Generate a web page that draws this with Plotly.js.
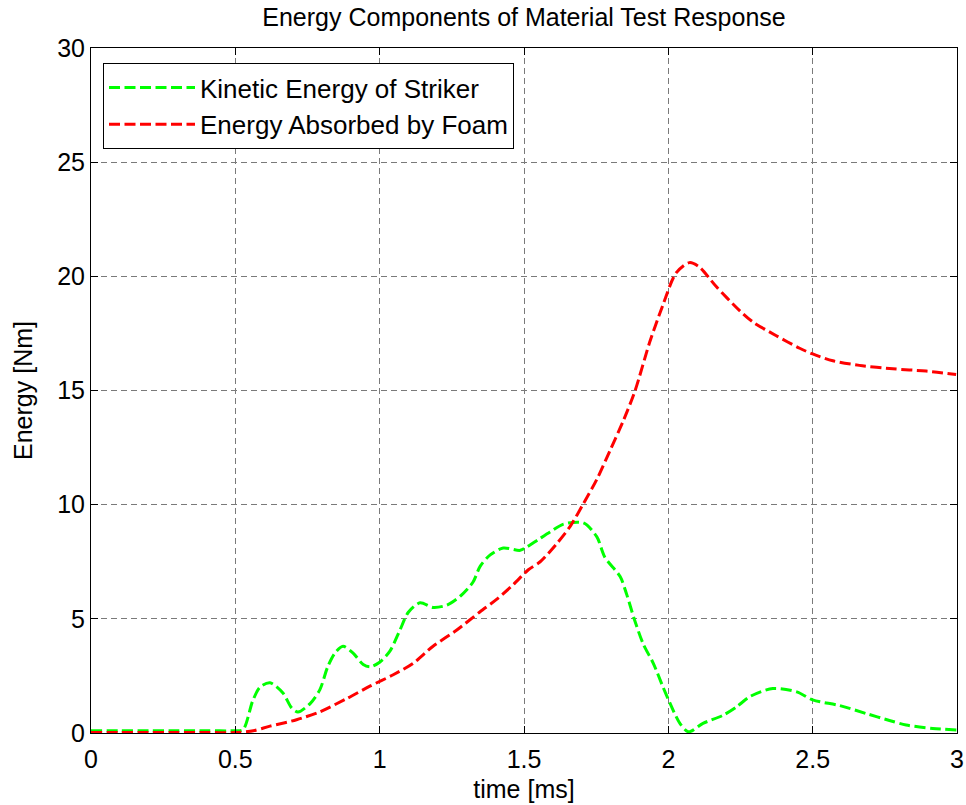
<!DOCTYPE html>
<html>
<head>
<meta charset="utf-8">
<script src="https://cdn.plot.ly/plotly-3.0.1.min.js"></script>
<style>html,body{margin:0;padding:0;background:#fff;}#chart{width:966px;height:805px;}</style>
</head>
<body>
<div id="chart"></div>
<script>
// Kinetic energy of striker (green)
const keTime = [0, 0.1, 0.2, 0.3, 0.4, 0.5, 0.527, 0.56, 0.585, 0.62, 0.665, 0.695, 0.717, 0.76, 0.793, 0.82, 0.845, 0.873, 0.908, 0.943, 0.967, 1.0, 1.036, 1.07, 1.1, 1.14, 1.185, 1.233, 1.28, 1.323, 1.348, 1.383, 1.428, 1.487, 1.51, 1.547, 1.59, 1.637, 1.706, 1.752, 1.78, 1.833, 1.855, 1.883, 1.913, 1.948, 1.982, 2.006, 2.04, 2.07, 2.12, 2.19, 2.237, 2.283, 2.362, 2.445, 2.5, 2.594, 2.686, 2.766, 2.824, 2.916, 3.0];
const keEnergy = [0.1, 0.1, 0.1, 0.1, 0.1, 0.1, 0.15, 1.4, 2.0, 2.2, 1.75, 1.1, 0.92, 1.3, 1.9, 2.9, 3.5, 3.8, 3.5, 3.0, 2.9, 3.1, 3.6, 4.5, 5.3, 5.7, 5.5, 5.6, 6.0, 6.6, 7.3, 7.8, 8.1, 8.0, 8.15, 8.45, 8.8, 9.15, 9.2, 8.6, 7.7, 6.85, 6.1, 4.95, 3.9, 3.05, 2.0, 1.3, 0.42, 0.05, 0.42, 0.78, 1.15, 1.6, 1.95, 1.8, 1.45, 1.2, 0.85, 0.55, 0.35, 0.2, 0.13];
// Energy absorbed by foam (red)
const foamTime = [0, 0.1, 0.2, 0.3, 0.4, 0.5, 0.562, 0.62, 0.712, 0.793, 0.885, 0.966, 1.047, 1.116, 1.185, 1.266, 1.347, 1.405, 1.463, 1.515, 1.556, 1.614, 1.66, 1.706, 1.752, 1.799, 1.845, 1.885, 1.935, 1.98, 2.027, 2.073, 2.108, 2.166, 2.247, 2.293, 2.374, 2.455, 2.5, 2.57, 2.662, 2.778, 2.893, 2.997];
const foamEnergy = [0.02, 0.02, 0.02, 0.02, 0.02, 0.02, 0.1, 0.3, 0.58, 0.93, 1.5, 2.05, 2.55, 3.05, 3.8, 4.5, 5.3, 5.85, 6.5, 7.15, 7.5, 8.3, 9.05, 10.05, 11.1, 12.4, 13.7, 15.0, 17.1, 18.7, 20.15, 20.6, 20.4, 19.55, 18.5, 18.0, 17.4, 16.85, 16.6, 16.3, 16.1, 15.95, 15.85, 15.7];

const xTicks = [0, 0.5, 1, 1.5, 2, 2.5, 3];
const xTickText = ['0', '0.5', '1', '1.5', '2', '2.5', '3'];
const yTicks = [0, 5, 10, 15, 20, 25, 30];
const yTickText = ['0', '5', '10', '15', '20', '25', '30'];

const FONT = 'Liberation Sans, Arial, Helvetica, sans-serif';

const traces = [
  {x: keTime, y: keEnergy, type: 'scatter', mode: 'lines', name: 'Kinetic Energy of Striker',
   line: {color: '#00ff00', width: 3, dash: '11px,4.5px', shape: 'spline', smoothing: 0.8}},
  {x: foamTime, y: foamEnergy, type: 'scatter', mode: 'lines', name: 'Energy Absorbed by Foam',
   line: {color: '#ff0000', width: 3, dash: '11px,4.5px', shape: 'spline', smoothing: 0.8}}
];

const axisCommon = {
  showline: true, linecolor: '#000', linewidth: 1, mirror: 'ticks',
  ticks: 'inside', ticklen: 7, tickcolor: '#000', tickwidth: 1,
  showgrid: true, gridcolor: '#7a7a7a', gridwidth: 1, griddash: '6px,4px',
  zeroline: false, tickfont: {family: FONT, size: 25, color: '#000'}
};

const layout = {
  width: 966, height: 805,
  margin: {l: 91, r: 9, t: 48, b: 72, pad: 0},
  paper_bgcolor: '#fff', plot_bgcolor: '#fff',
  font: {family: FONT, size: 25, color: '#000'},
  title: {text: 'Energy Components of Material Test Response', font: {family: FONT, size: 25, color: '#000'},
          xref: 'paper', x: 0.5, xanchor: 'center', yref: 'container', y: 1 - 17 / 805, yanchor: 'middle'},
  xaxis: Object.assign({}, axisCommon, {
    range: [0, 3], tickmode: 'array', tickvals: xTicks, ticktext: xTickText, ticklabelstandoff: 4,
    title: {text: 'time [ms]', font: {family: FONT, size: 25, color: '#000'}, standoff: 8}
  }),
  yaxis: Object.assign({}, axisCommon, {
    range: [0, 30], tickmode: 'array', tickvals: yTicks, ticktext: yTickText,
    title: {text: 'Energy [Nm]', font: {family: FONT, size: 25, color: '#000'}, standoff: 17}
  }),
  showlegend: true,
  legend: {x: 12 / 866, y: 1 - 15 / 685, xanchor: 'left', yanchor: 'top',
           bgcolor: '#fff', bordercolor: '#000', borderwidth: 1,
           font: {family: FONT, size: 26, color: '#000'}, itemwidth: 86,
           entrywidthmode: 'pixels', entrywidth: 425, tracegroupgap: 0}
};

Plotly.newPlot('chart', traces, layout, {displayModeBar: false, staticPlot: true});
</script>
</body>
</html>
